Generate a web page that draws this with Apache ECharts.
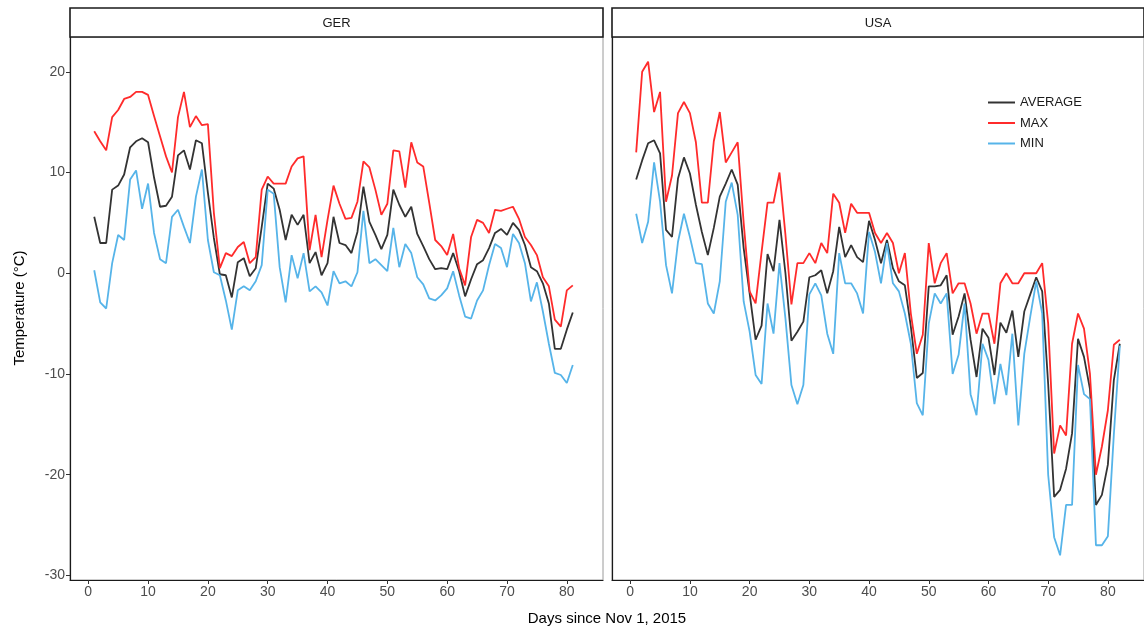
<!DOCTYPE html>
<html>
<head>
<meta charset="utf-8">
<title>Temperature GER / USA</title>
<script src="https://cdn.jsdelivr.net/npm/echarts@6/dist/echarts.min.js"></script>
<style>
  html, body { margin: 0; padding: 0; background: #fff; }
  #chart { width: 1144px; height: 633px; }
</style>
</head>
<body>
<div id="chart"></div>
<script>
// daily temperatures, days since Nov 1, 2015 (day 1 = first value)
const gerMax = [14.1, 13.1, 12.2, 15.5, 16.2, 17.3, 17.5, 18.0, 18.0, 17.7,
  15.6, 13.6, 11.6, 10.0, 15.5, 18.0, 14.5, 15.6, 14.7, 14.8,
  6.0, 0.5, 2.0, 1.7, 2.6, 3.1, 1.0, 1.6, 8.3, 9.6,
  8.9, 8.9, 8.9, 10.6, 11.4, 11.6, 2.3, 5.8, 1.6, 5.3,
  8.7, 6.9, 5.4, 5.5, 7.1, 11.1, 10.5, 8.3, 5.8, 6.9,
  12.2, 12.1, 8.5, 13.0, 11.0, 10.6, 7.0, 3.3, 2.7, 1.8,
  3.9, 0.5, -1.2, 3.6, 5.3, 5.0, 4.0, 6.3, 6.2, 6.4,
  6.6, 5.4, 3.6, 2.8, 1.8, -0.4, -1.3, -4.6, -5.3, -1.7, -1.2];
const gerAvg = [5.6, 3.0, 3.0, 8.3, 8.7, 9.8, 12.5, 13.1, 13.4, 13.0,
  9.5, 6.6, 6.7, 7.6, 11.7, 12.2, 10.3, 13.2, 12.9, 8.0,
  3.5, -0.1, -0.2, -2.4, 1.1, 1.5, -0.3, 0.5, 4.6, 8.9,
  8.4, 6.3, 3.3, 5.8, 4.8, 5.8, 1.0, 2.1, -0.2, 1.0,
  5.6, 3.0, 2.8, 2.0, 4.1, 8.6, 5.1, 3.8, 2.4, 3.8,
  8.3, 6.8, 5.6, 6.6, 3.9, 2.7, 1.4, 0.4, 0.5, 0.4,
  2.0, 0.2, -2.3, -0.6, 0.9, 1.3, 2.5, 4.0, 4.4, 3.8,
  5.0, 4.3, 2.8, 0.6, 0.2, -1.0, -3.0, -7.5, -7.5, -5.6, -3.9];
const gerMin = [0.3, -2.9, -3.5, 1.0, 3.8, 3.3, 9.3, 10.2, 6.4, 8.9,
  4.0, 1.4, 1.0, 5.6, 6.3, 4.6, 3.0, 7.6, 10.3, 3.3,
  0.1, -0.2, -2.7, -5.6, -1.7, -1.3, -1.7, -0.8, 0.8, 8.3,
  7.9, 0.6, -2.9, 1.8, -0.5, 2.0, -1.8, -1.3, -1.9, -3.2,
  0.2, -1.0, -0.8, -1.3, 0.1, 6.2, 1.0, 1.4, 0.8, 0.2,
  4.5, 0.6, 2.9, 2.0, -0.4, -1.1, -2.5, -2.7, -2.2, -1.5,
  0.2, -2.2, -4.3, -4.5, -2.7, -1.7, 0.8, 2.9, 2.5, 0.6,
  3.9, 3.0, 1.0, -2.8, -0.9, -3.8, -7.0, -9.9, -10.1, -10.9, -9.1];

const usaMax = [12.0, 20.0, 21.0, 16.0, 18.0, 7.1, 9.7, 15.9, 17.0, 15.9,
  13.0, 7.0, 7.0, 13.1, 16.0, 11.0, 12.0, 13.0, 5.0, -1.8,
  -3.0, 2.1, 7.0, 7.0, 10.0, 3.8, -3.1, 1.0, 1.0, 2.0,
  1.0, 3.0, 2.0, 7.9, 7.0, 4.0, 6.9, 6.0, 6.0, 6.0,
  4.0, 3.0, 4.0, 3.0, 0.0, 2.0, -4.0, -8.0, -6.1, 3.0,
  -1.0, 1.0, 2.0, -2.0, -1.0, -1.0, -3.0, -6.0, -4.0, -4.0,
  -7.0, -1.0, 0.0, -1.0, -1.0, 0.0, 0.0, 0.0, 1.0, -5.0,
  -17.9, -15.1, -16.1, -7.0, -4.0, -5.5, -10.0, -20.0, -17.2, -13.6, -7.1, -6.6];
const usaAvg = [9.3, 11.2, 12.9, 13.2, 11.9, 4.3, 3.6, 9.4, 11.5, 9.9,
  6.8, 4.1, 1.8, 4.5, 7.6, 8.9, 10.3, 8.8, 2.5, -2.0,
  -6.6, -5.2, 1.9, 0.2, 5.3, 0.0, -6.7, -5.8, -4.8, -0.4,
  -0.2, 0.3, -2.0, 0.2, 4.6, 1.6, 2.8, 1.6, 1.1, 5.2,
  3.3, 1.0, 3.3, 0.5, -0.8, -1.2, -5.3, -10.4, -9.9, -1.3,
  -1.3, -1.2, -0.2, -6.1, -4.3, -2.0, -6.6, -10.3, -5.5, -6.4,
  -10.1, -4.9, -5.9, -3.7, -8.3, -3.8, -2.1, -0.4, -1.8, -11.0,
  -22.2, -21.5, -19.4, -15.9, -6.5, -8.3, -11.5, -23.0, -22.0, -19.0, -10.6, -7.0];
const usaMin = [5.9, 3.0, 5.1, 11.0, 7.1, 0.8, -2.0, 3.1, 5.9, 3.6,
  1.0, 0.9, -3.0, -4.0, -0.8, 7.1, 9.0, 5.8, -2.8, -5.8,
  -10.1, -11.0, -3.0, -6.0, 1.0, -4.5, -11.1, -13.0, -11.1, -2.1,
  -1.0, -2.2, -6.0, -8.0, 2.0, -1.0, -1.0, -2.0, -4.0, 4.1,
  2.1, -1.0, 3.0, -1.0, -1.8, -4.0, -7.0, -12.9, -14.1, -5.0,
  -2.0, -3.0, -2.0, -10.0, -8.1, -3.0, -12.0, -14.1, -7.0, -8.6,
  -13.0, -9.0, -12.1, -6.0, -15.1, -8.0, -4.3, -0.8, -4.0, -20.0,
  -26.2, -28.0, -23.0, -23.0, -9.1, -12.0, -12.5, -27.0, -27.0, -26.1, -16.0, -7.2];

const xTicks = [0, 10, 20, 30, 40, 50, 60, 70, 80];
const yTicks = [-30, -20, -10, 0, 10, 20];
const panels = ['GER', 'USA'];

const colors = { AVERAGE: '#333333', MAX: '#FF2B2B', MIN: '#56B4E9' };
const FONT = '"Liberation Sans", Arial, sans-serif';

// shared scales with ggplot-style 5% expansion
const allVals = [].concat(gerMax, gerAvg, gerMin, usaMax, usaAvg, usaMin);
const vMin = Math.min(...allVals), vMax = Math.max(...allVals);
const yPad = (vMax - vMin) * 0.05;
const nDays = Math.max(gerMax.length, usaMax.length);
const xPad = (nDays - 1) * 0.05;

const toPts = arr => arr.map((v, i) => [i + 1, v]);

const grids = [
  { left: 70, top: 37, width: 533, height: 543 },
  { left: 612, top: 37, width: 532, height: 543 }
];

function lineSeries(name, arr, idx) {
  return {
    name, type: 'line', xAxisIndex: idx, yAxisIndex: idx,
    data: toPts(arr), symbol: 'none', silent: true,
    lineStyle: { color: colors[name], width: 1.8 },
    itemStyle: { color: colors[name] }
  };
}

const chart = echarts.init(document.getElementById('chart'), null, { renderer: 'canvas' });

const option = {
  animation: false,
  backgroundColor: '#fff',
  textStyle: { fontFamily: FONT },
  grid: grids.map(g => ({ ...g, show: true, borderColor: '#9a9a9a', borderWidth: 1, backgroundColor: '#fff' })),
  legend: {
    data: ['AVERAGE', 'MAX', 'MIN'],
    orient: 'vertical', left: 987, top: 96, padding: 0,
    itemWidth: 27, itemHeight: 14, itemGap: 7.5,
    itemStyle: { opacity: 0 },   // plain line keys, no dot
    textStyle: { fontFamily: FONT, fontSize: 13, color: '#1a1a1a' }
  },
  xAxis: grids.map((g, i) => ({
    type: 'value', gridIndex: i, min: 1 - xPad, max: nDays + xPad,
    axisLine: { show: true, onZero: false, lineStyle: { color: '#1a1a1a', width: 1.2 } },
    axisTick: { show: true, length: 4, customValues: xTicks, lineStyle: { color: '#333' } },
    axisLabel: { customValues: xTicks, color: '#4d4d4d', fontSize: 14, margin: 5, fontFamily: FONT },
    splitLine: { show: false }
  })),
  yAxis: grids.map((g, i) => ({
    type: 'value', gridIndex: i, min: vMin - yPad, max: vMax + yPad,
    axisLine: { show: true, onZero: false, lineStyle: { color: '#1a1a1a', width: 1.2 } },
    axisTick: { show: i === 0, length: 4, customValues: yTicks, lineStyle: { color: '#333' } },
    axisLabel: { show: i === 0, customValues: yTicks, color: '#4d4d4d', fontSize: 14, margin: 5, fontFamily: FONT },
    splitLine: { show: false }
  })),
  series: [
    lineSeries('AVERAGE', gerAvg, 0), lineSeries('MAX', gerMax, 0), lineSeries('MIN', gerMin, 0),
    lineSeries('AVERAGE', usaAvg, 1), lineSeries('MAX', usaMax, 1), lineSeries('MIN', usaMin, 1)
  ],
  graphic: [
    // facet strips
    ...grids.flatMap((g, i) => [
      { type: 'rect', z: 10, shape: { x: g.left, y: 8, width: g.width, height: 29 },
        style: { fill: '#fff', stroke: '#1a1a1a', lineWidth: 1.6 } },
      { type: 'text', z: 11, x: g.left + g.width / 2, y: 23,
        style: { text: panels[i], fill: '#1a1a1a', font: '13px ' + FONT, textAlign: 'center', textVerticalAlign: 'middle' } }
    ]),
    { type: 'text', x: 607, y: 619,
      style: { text: 'Days since Nov 1, 2015', fill: '#000', font: '15px ' + FONT, textAlign: 'center', textVerticalAlign: 'middle' } },
    { type: 'text', x: 20, y: 308, rotation: Math.PI / 2,
      style: { text: 'Temperature (°C)', fill: '#000', font: '15px ' + FONT, textAlign: 'center', textVerticalAlign: 'middle' } }
  ]
};

chart.setOption(option);
</script>
</body>
</html>
